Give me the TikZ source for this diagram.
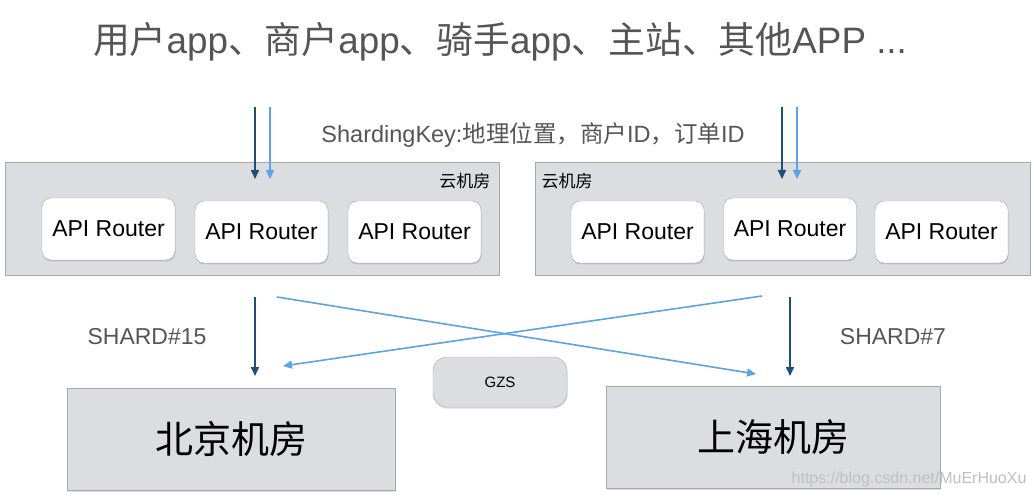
\documentclass[tikz,border=0pt]{standalone}
\usepackage{fontspec}
\setmainfont{Liberation Sans}
\newfontfamily\cjk{Noto Sans CJK SC}
\usetikzlibrary{arrows.meta, shadows}

\definecolor{darkarrow}{HTML}{1F4E79}
\definecolor{lightarrow}{HTML}{5BA3E6}
\definecolor{roomfill}{HTML}{DCDDE0}
\definecolor{roomline}{HTML}{A8A8A8}
\definecolor{labelgray}{HTML}{555555}

\begin{document}
\begin{tikzpicture}[x=1pt, y=-1pt]
\tikzset{RoomStyle/.style = {draw= roomline, fill= roomfill, inner sep= 0pt,
        drop shadow= {opacity= 0.25, shadow xshift= 0.5pt, shadow yshift= -1.5pt}},
    RouterStyle/.style = {draw= roomline, fill= white, rounded corners= 9pt,
        minimum width= 133pt, minimum height= 62pt, font= \fontsize{23}{26}\selectfont,
        drop shadow= {opacity= 0.3, shadow xshift= 0.5pt, shadow yshift= -1.5pt}},
    DarkArrow/.style = {-{Triangle[length= 9pt, width= 8pt]}, darkarrow, line width= 1.6pt},
    LightArrow/.style = {-{Triangle[length= 9pt, width= 8pt]}, lightarrow, line width= 1.6pt}
}
    \useasboundingbox (0,0) rectangle (1034,497);

    % Title
    \node[labelgray, font= \fontsize{36.8}{41}\selectfont] (title) at (500,42)
        {{\cjk 用户}app{\cjk 、商户}app{\cjk 、骑手}app{\cjk 、主站、其他}APP ...};
    \node[labelgray, font= \fontsize{23.5}{27}\selectfont] (key) at (533,135)
        {ShardingKey:{\cjk 地理位置，商户}ID{\cjk ，订单}ID};

    % Cloud rooms
    \node[RoomStyle, minimum width= 494pt, minimum height= 113pt] (cloudL) at (252,218.5) {};
    \node[RoomStyle, minimum width= 495pt, minimum height= 113pt] (cloudR) at (782.5,218.5) {};
    \node[font= \cjk\fontsize{17}{20}\selectfont, anchor= east] (cloudLlabel) at (494,181) {云机房};
    \node[font= \cjk\fontsize{17}{20}\selectfont, anchor= west] (cloudRlabel) at (538,181) {云机房};

    \node[RouterStyle] (routerL1) at (108.5,229) {API Router};
    \node[RouterStyle] (routerL2) at (261.5,232) {API Router};
    \node[RouterStyle] (routerL3) at (414.5,232) {API Router};
    \node[RouterStyle] (routerR1) at (637.5,232) {API Router};
    \node[RouterStyle] (routerR2) at (790,229) {API Router};
    \node[RouterStyle] (routerR3) at (941.5,232) {API Router};

    % Incoming requests
    \coordinate (inLdark)  at (255,107);  \coordinate (hitLdark)  at (255,179);
    \coordinate (inLlight) at (270,107);  \coordinate (hitLlight) at (270,179);
    \coordinate (inRdark)  at (782,107);  \coordinate (hitRdark)  at (782,179);
    \coordinate (inRlight) at (797,107);  \coordinate (hitRlight) at (797,179);
    \draw[DarkArrow]  (inLdark) -- (hitLdark);
    \draw[LightArrow] (inLlight) -- (hitLlight);
    \draw[DarkArrow]  (inRdark) -- (hitRdark);
    \draw[LightArrow] (inRlight) -- (hitRlight);

    % Data centers
    \node[RoomStyle, minimum width= 328pt, minimum height= 102pt,
        font= \cjk\fontsize{38}{42}\selectfont] (beijing) at (231,439) {北京机房};
    \node[RoomStyle, minimum width= 334pt, minimum height= 102pt,
        font= \cjk\fontsize{38}{42}\selectfont] (shanghai) at (773,437) {上海机房};
    \node[draw= roomline, fill= roomfill, rounded corners= 14pt, minimum width= 134pt,
        minimum height= 50pt, font= \fontsize{15}{18}\selectfont,
        drop shadow= {opacity= 0.3, shadow xshift= 0.5pt, shadow yshift= -1.5pt}] (gzs) at (500,382) {GZS};

    % Shard routing
    \coordinate (outLdark)  at (255,297);  \coordinate (toBJdark) at (255,376);
    \coordinate (outRdark)  at (790,297);  \coordinate (toSHdark) at (790,376);
    \coordinate (outLlight) at (277,297);  \coordinate (toSHlight) at (756,374);
    \coordinate (outRlight) at (762,296);  \coordinate (toBJlight) at (283,366);
    \draw[DarkArrow]  (outLdark) -- (toBJdark);
    \draw[DarkArrow]  (outRdark) -- (toSHdark);
    \draw[LightArrow] (outLlight) -- (toSHlight);
    \draw[LightArrow] (outRlight) -- (toBJlight);

    \node[labelgray, font= \fontsize{23}{26}\selectfont] (shardL) at (147,337) {SHARD\#15};
    \node[labelgray, font= \fontsize{23}{26}\selectfont] (shardR) at (893,337) {SHARD\#7};

    \node[black!25, font= \fontsize{16}{18}\selectfont, anchor= east] (mark) at (1030,479)
        {https://blog.csdn.net/MuErHuoXu};
\end{tikzpicture}
\end{document}
